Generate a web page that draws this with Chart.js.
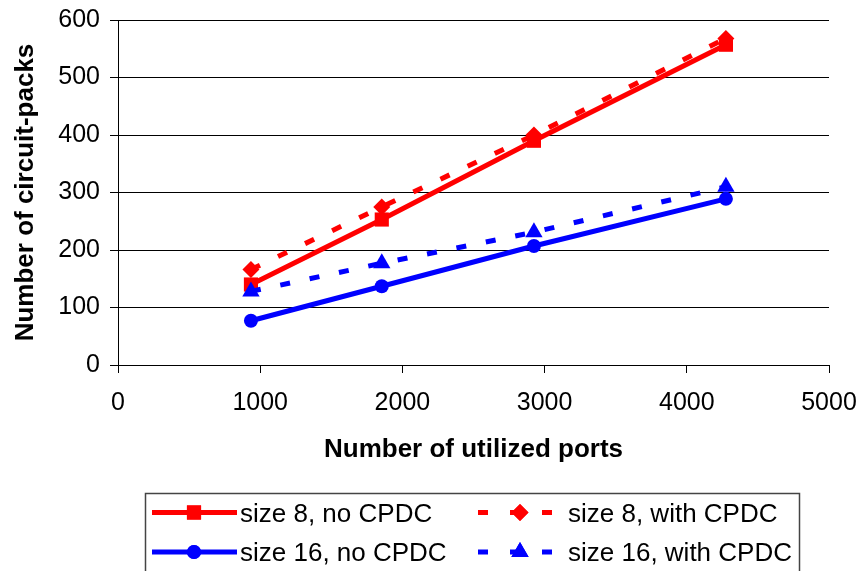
<!DOCTYPE html>
<html>
<head>
<meta charset="utf-8">
<script src="https://cdn.jsdelivr.net/npm/chart.js@4.4.1/dist/chart.umd.min.js"></script>
<style>
  html, body { margin: 0; padding: 0; background: #fff; }
  #wrap { width: 862px; height: 571px; }
</style>
</head>
<body>
<div id="wrap"><canvas id="c" width="862" height="571"></canvas></div>
<script>
// Utilized ports for each configuration
const ports = [935, 1855, 2925, 4275];

// Circuit-pack counts per series
const size8NoCpdc = [140, 253, 390, 557];
const size8WithCpdc = [166, 275, 400, 568];
const size16NoCpdc = [77, 137, 207, 289];
const size16WithCpdc = [128, 177, 231, 310];

const seriesLabels = ['size 8, no CPDC', 'size 8, with CPDC', 'size 16, no CPDC', 'size 16, with CPDC'];
const xTicks = [0, 1000, 2000, 3000, 4000, 5000];
const yTicks = [0, 100, 200, 300, 400, 500, 600];

const FONT = '"Liberation Sans", Arial, sans-serif';
const RED = '#FF0000';
const BLUE = '#0000FF';
const DASH = [10, 20];

function pts(ys) { return ports.map((x, i) => ({ x: x, y: ys[i] })); }

const datasets = [
  { label: seriesLabels[0], data: pts(size8NoCpdc), borderColor: RED, backgroundColor: RED,
    borderWidth: 5, pointStyle: 'rect', pointRadius: 10, order: 3 },
  { label: seriesLabels[1], data: pts(size8WithCpdc), borderColor: RED, backgroundColor: RED,
    borderWidth: 5, borderDash: DASH, pointStyle: 'rectRot', pointRadius: 8.5, order: 2 },
  { label: seriesLabels[2], data: pts(size16NoCpdc), borderColor: BLUE, backgroundColor: BLUE,
    borderWidth: 5, pointStyle: 'circle', pointRadius: 7, order: 1 },
  { label: seriesLabels[3], data: pts(size16WithCpdc), borderColor: BLUE, backgroundColor: BLUE,
    borderWidth: 5, borderDash: DASH, pointStyle: 'triangle', pointRadius: 10, order: 0 }
];
datasets.forEach(d => {
  d.pointBorderWidth = 0;
  d.pointHoverRadius = d.pointRadius;
  d.borderCapStyle = 'butt';
  d.tension = 0;
  d.fill = false;
});

// Boxed two-column legend below the axes
const boxLegend = {
  id: 'boxLegend',
  afterDraw(chart) {
    const ctx = chart.ctx;
    const ds = chart.data.datasets;
    ctx.save();
    ctx.strokeStyle = '#444';
    ctx.lineWidth = 1.5;
    ctx.strokeRect(145.5, 493.5, 654, 90);

    const rows = [512.5, 552];
    const cols = [
      { x0: 152, x1: 237, mx: 194, tx: 240, dash: [] },
      { x0: 478, x1: 552, mx: 520, tx: 568, dash: [10, 22] }
    ];
    const order = [[0, 1], [2, 3]];
    for (let r = 0; r < 2; r++) {
      for (let c = 0; c < 2; c++) {
        const d = ds[order[r][c]];
        const col = cols[c];
        const y = rows[r];
        ctx.beginPath();
        ctx.setLineDash(d.borderDash ? col.dash : []);
        ctx.strokeStyle = d.borderColor;
        ctx.lineWidth = 5;
        ctx.lineCap = 'butt';
        ctx.moveTo(col.x0, y);
        ctx.lineTo(col.x1, y);
        ctx.stroke();
        ctx.setLineDash([]);
        ctx.fillStyle = d.backgroundColor;
        Chart.helpers.drawPoint(ctx, {
          pointStyle: d.pointStyle, radius: d.pointRadius, rotation: 0, borderWidth: 0
        }, col.mx, y);
        ctx.fill();
        ctx.fillStyle = '#000';
        ctx.font = '26px ' + FONT;
        ctx.textAlign = 'left';
        ctx.textBaseline = 'middle';
        ctx.fillText(d.label, col.tx, y + 2);
      }
    }
    ctx.restore();
  }
};

const plainTick = v => String(v);

new Chart(document.getElementById('c'), {
  type: 'line',
  data: { datasets: datasets },
  options: {
    responsive: false,
    animation: false,
    devicePixelRatio: 1,
    layout: { padding: { top: 20, right: 33, bottom: 106, left: 0 } },
    plugins: { legend: { display: false }, tooltip: { enabled: false } },
    scales: {
      x: {
        type: 'linear',
        min: 0, max: 5000,
        afterBuildTicks(scale) { scale.ticks = xTicks.map(v => ({ value: v })); },
        afterFit(scale) { scale.height = 100; scale.paddingLeft = 0; scale.paddingRight = 0; },
        ticks: { color: '#000', font: { family: FONT, size: 25 }, padding: 15, maxRotation: 0,
                 callback: plainTick },
        grid: { drawOnChartArea: false, drawTicks: true, tickLength: 8, color: '#000', lineWidth: 1 },
        border: { display: true, color: '#000', width: 1 },
        title: { display: true, text: 'Number of utilized ports', color: '#000',
                 font: { family: FONT, size: 26, weight: 'bold' }, padding: { top: 0, bottom: 0 } }
      },
      y: {
        type: 'linear',
        min: 0, max: 600,
        afterBuildTicks(scale) { scale.ticks = yTicks.map(v => ({ value: v })); },
        afterFit(scale) { scale.width = 118; scale.paddingTop = 0; scale.paddingBottom = 0; },
        ticks: { color: '#000', font: { family: FONT, size: 25 }, padding: 10, callback: plainTick },
        grid: { drawOnChartArea: true, drawTicks: true, tickLength: 8, color: '#000', lineWidth: 1 },
        border: { display: true, color: '#000', width: 1 },
        title: { display: true, text: 'Number of circuit-packs', color: '#000',
                 font: { family: FONT, size: 26, weight: 'bold' }, padding: { top: 10, bottom: 0 } }
      }
    }
  },
  plugins: [boxLegend]
});
</script>
</body>
</html>
